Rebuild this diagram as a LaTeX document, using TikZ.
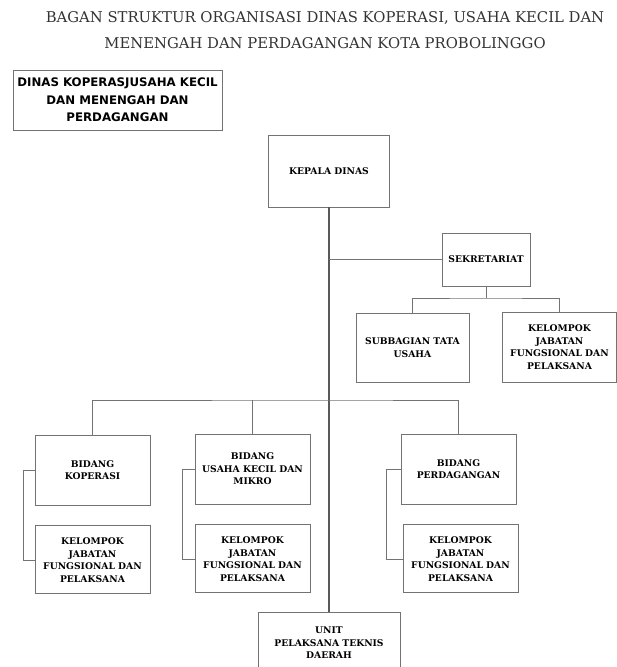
\documentclass[tikz,border=0pt]{standalone}
\usepackage{fontspec}
\setmainfont{DejaVu Serif}
\setsansfont{DejaVu Sans}
\usetikzlibrary{positioning}
\def\boxWidth{115pt}
\def\groupGap{20pt}
\def\bracketShift{11pt}
\tikzset{
  chart/.style={x=1pt,y=-1pt},
  unitBox/.style={
    draw=black!55,
    line width=0.9pt,
    align=center,
    inner sep=2pt,
    minimum width=\boxWidth,
    minimum height=70pt,
    font=\fontsize{9.2}{12.5}\selectfont\bfseries
  },
  groupBox/.style={unitBox,minimum height=68pt},
  headBox/.style={
    draw=black!55,
    line width=0.9pt,
    align=center,
    minimum width=209pt,
    minimum height=60pt,
    font=\sffamily\bfseries\fontsize{11.8}{17.5}\selectfont
  },
  link/.style={draw=black!55,line width=0.7pt},
  trunk/.style={draw=black!65,line width=1.1pt},
  titleText/.style={align=center,text=black!80,font=\fontsize{14.8}{26}\selectfont}
}
\begin{document}
\begin{tikzpicture}[chart]
  \useasboundingbox (0,0) rectangle (617,667);

  \node[titleText] (title) at (325,30)
    {BAGAN STRUKTUR ORGANISASI DINAS KOPERASI, USAHA KECIL DAN\\MENENGAH DAN PERDAGANGAN KOTA PROBOLINGGO};
  \node[headBox] (dinas) at (117.5,100)
    {DINAS KOPERASJUSAHA KECIL\\DAN MENENGAH DAN\\PERDAGANGAN};

  % pimpinan dan sekretariat
  \node[unitBox,minimum width=121pt,minimum height=72pt] (kepala) at (329,171) {KEPALA DINAS};
  \node[unitBox,minimum width=88pt,minimum height=53pt] (sekretariat) at (486,259.5) {SEKRETARIAT};
  \node[unitBox,minimum width=113pt,minimum height=69pt] (subbagian) at (412.5,347.5) {SUBBAGIAN TATA\\USAHA};
  \node[unitBox,minimum width=114pt,minimum height=70pt] (kelompokSek) at (559.5,347)
    {KELOMPOK\\JABATAN\\FUNGSIONAL DAN\\PELAKSANA};

  % bidang
  \node[unitBox] (koperasi) at (92.5,470) {BIDANG\\KOPERASI};
  \node[unitBox] (usaha) at (252.5,469) {BIDANG\\USAHA KECIL DAN\\MIKRO};
  \node[unitBox] (perdagangan) at (458.5,469) {BIDANG\\PERDAGANGAN};
  \node[groupBox,below=\groupGap of koperasi] (kelompokKop)
    {KELOMPOK\\JABATAN\\FUNGSIONAL DAN\\PELAKSANA};
  \node[groupBox,below=\groupGap of usaha] (kelompokUsaha)
    {KELOMPOK\\JABATAN\\FUNGSIONAL DAN\\PELAKSANA};
  \node[groupBox,below=\groupGap of perdagangan,xshift=2pt] (kelompokPer)
    {KELOMPOK\\JABATAN\\FUNGSIONAL DAN\\PELAKSANA};

  \node[unitBox,minimum width=142pt,minimum height=62pt] (upt) at (329,643)
    {UNIT\\PELAKSANA TEKNIS\\DAERAH};

  % garis komando
  \coordinate (bus) at (329,400);
  \coordinate (sekBus) at (486,298);
  \draw[trunk] (kepala.south) -- (upt.north);
  \draw[link] (sekretariat.west) -- (sekretariat.west -| kepala.south);
  \draw[link] (sekretariat.south) -- (sekBus);
  \draw[link] (subbagian.north) |- (sekBus) -| (kelompokSek.north);
  \draw[link] (koperasi.north) |- (bus) -| (perdagangan.north);
  \draw[link] (usaha.north) -- (usaha.north |- bus);

  % kelompok jabatan fungsional
  \draw[link] (koperasi.west) -- ++(-\bracketShift,0) |- (kelompokKop.west);
  \draw[link] (usaha.west) -- ++(-12pt,0) |- (kelompokUsaha.west);
  \draw[link] (perdagangan.west) -- ++(-14pt,0) |- (kelompokPer.west);
\end{tikzpicture}
\end{document}
